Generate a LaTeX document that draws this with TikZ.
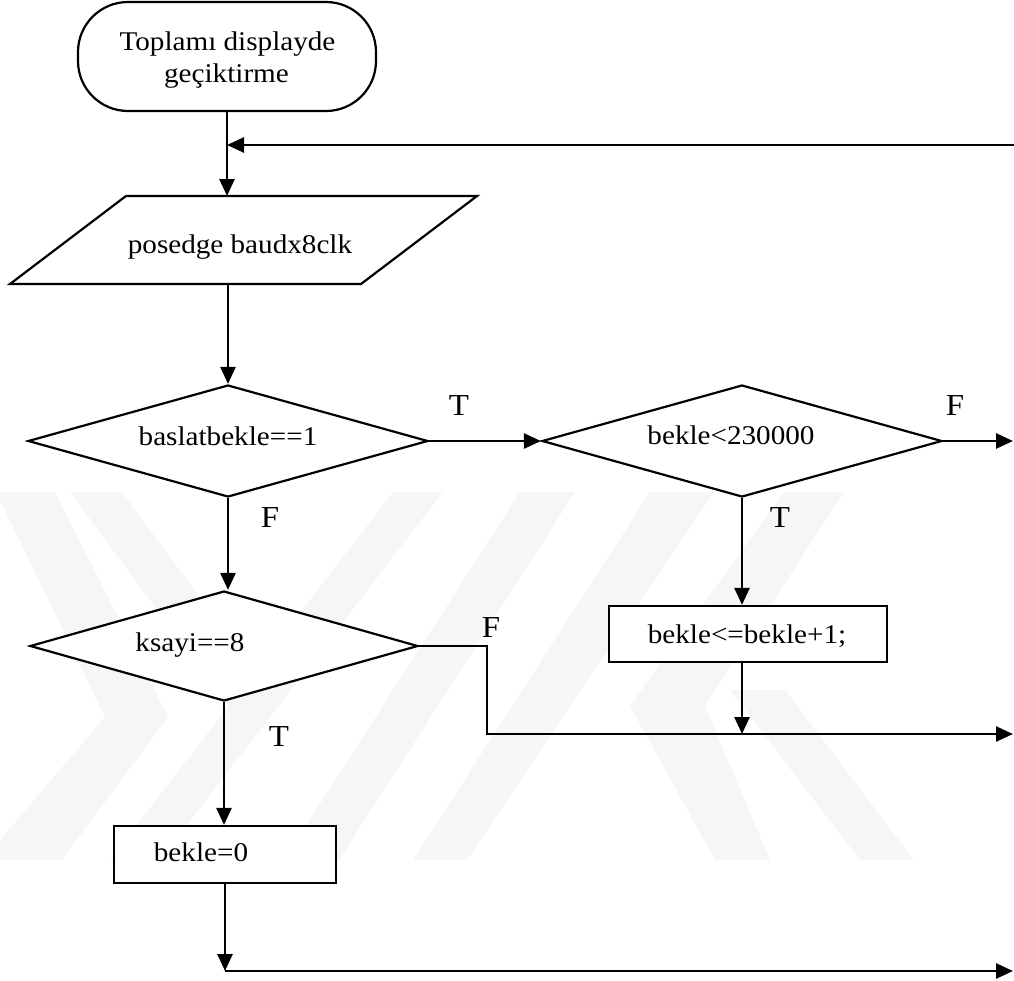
\documentclass[tikz,border=0pt]{standalone}
\usepackage{fontspec}
\setmainfont{Liberation Serif}[FakeStretch=1.08]
\usetikzlibrary{shapes.geometric,arrows.meta}

\begin{document}
\begin{tikzpicture}[x=1pt,y=-1pt,
  shapeline/.style={draw=black,line width=2.2pt,fill=white},
  decision/.style={shapeline,diamond,minimum width=400pt,minimum height=112pt,inner sep=0pt},
  actbox/.style={shapeline,rectangle,inner sep=0pt},
  txt/.style={anchor=base,inner sep=0pt,font=\fontsize{27}{32}\selectfont},
  lbl/.style={anchor=base,inner sep=0pt,font=\fontsize{30.5}{34}\selectfont},
  flow/.style={line width=2.6pt,-{Triangle[length=17pt,width=15pt]}},
  thinline/.style={line width=1.5pt},
  wmark/.style={fill=gray!7,draw=none}]

\useasboundingbox (0,0) rectangle (1014,980);

% faint logo bands in the background
\fill[wmark] (0,492) -- (55,492) -- (168,717) -- (62,860) -- (0,860) -- (0,840) -- (105,717) -- (0,500) -- cycle;
\fill[wmark] (70,492) -- (122,492) -- (280,706) -- (228,706) -- cycle;
\fill[wmark] (393,492) -- (443,492) -- (160,860) -- (110,860) -- cycle;
\fill[wmark] (520,492) -- (575,492) -- (339,860) -- (284,860) -- cycle;
\fill[wmark] (650,492) -- (714,492) -- (467,860) -- (413,860) -- cycle;
\fill[wmark] (784,492) -- (844,492) -- (705,706) -- (770,860) -- (715,860) -- (630,706) -- cycle;
\fill[wmark] (730,690) -- (785,690) -- (914,860) -- (860,860) -- cycle;

% shapes
\node[shapeline,rounded corners=50pt,minimum width=298pt,minimum height=109pt,inner sep=0pt] (start) at (227,56.5) {};
\node[txt] (startA) at (227.5,50) {Toplamı displayde};
\node[txt] (startB) at (226.5,82) {geçiktirme};

% input parallelogram
\coordinate (clkNW) at (126,196);
\coordinate (clkNE) at (477,196);
\coordinate (clkSE) at (361,284);
\coordinate (clkSW) at (10,284);
\draw[shapeline,line join=miter] (clkNW) -- (clkNE) -- (clkSE) -- (clkSW) -- cycle;
\coordinate (clkN) at (227,196);
\coordinate (clkS) at (228,284);
\node[txt] (clkT) at (240,253) {posedge baudx8clk};

\node[decision] (d1) at (228,441) {};
\node[txt] (d1T) at (228,445) {baslatbekle==1};

\node[decision] (d2) at (742,441) {};
\node[txt] (d2T) at (731,444) {bekle<230000};

\node[decision,minimum width=388pt,minimum height=110pt] (d3) at (224,646) {};
\node[txt] (d3T) at (190,651) {ksayi==8};

\node[actbox,minimum width=278pt,minimum height=56pt] (inc) at (748,634) {};
\node[txt] (incT) at (747,643) {bekle<=bekle+1;};

\node[actbox,minimum width=222pt,minimum height=57pt] (clr) at (225,854.5) {};
\node[txt] (clrT) at (201,861) {bekle=0};

% branch labels
\node[lbl] (t1) at (459,415) {T};
\node[lbl] (f1) at (955,415) {F};
\node[lbl] (f2) at (270,527) {F};
\node[lbl] (t2) at (780,527) {T};
\node[lbl] (f3) at (491,637) {F};
\node[lbl] (t3) at (279,746) {T};

% free ends at the right margin
\coordinate (loopR) at (1014,145);
\coordinate (outF) at (1013,441);
\coordinate (fbend) at (487,734);
\coordinate (joinR) at (1013,734);
\coordinate (endR) at (1013,971);

% connectors
\draw[line width=2.6pt] (start.south) -- (start.south |- loopR);
\draw[flow] (loopR) -- (start.south |- loopR);
\draw[flow] (start.south |- loopR) -- (clkN);
\draw[flow] (d1.north |- clkS) -- (d1.north);
\draw[flow] (d1.east) -- (d2.west);
\draw[flow] (d2.east) -- (outF);
\draw[flow] (d1.south) -- (d1.south |- d3.north);
\draw[flow] (d2.south) -- (d2.south |- inc.north);
\draw[thinline] (d3.east) -| (fbend) -- (d2.south |- fbend);
\draw[flow] (d2.south |- inc.south) -- (d2.south |- fbend);
\draw[flow] (d2.south |- fbend) -- (joinR);
\draw[flow] (d3.south) -- (d3.south |- clr.north);
\draw[flow] (clr.south) -- (clr.south |- endR);
\draw[flow] (clr.south |- endR) -- (endR);

\end{tikzpicture}
\end{document}
